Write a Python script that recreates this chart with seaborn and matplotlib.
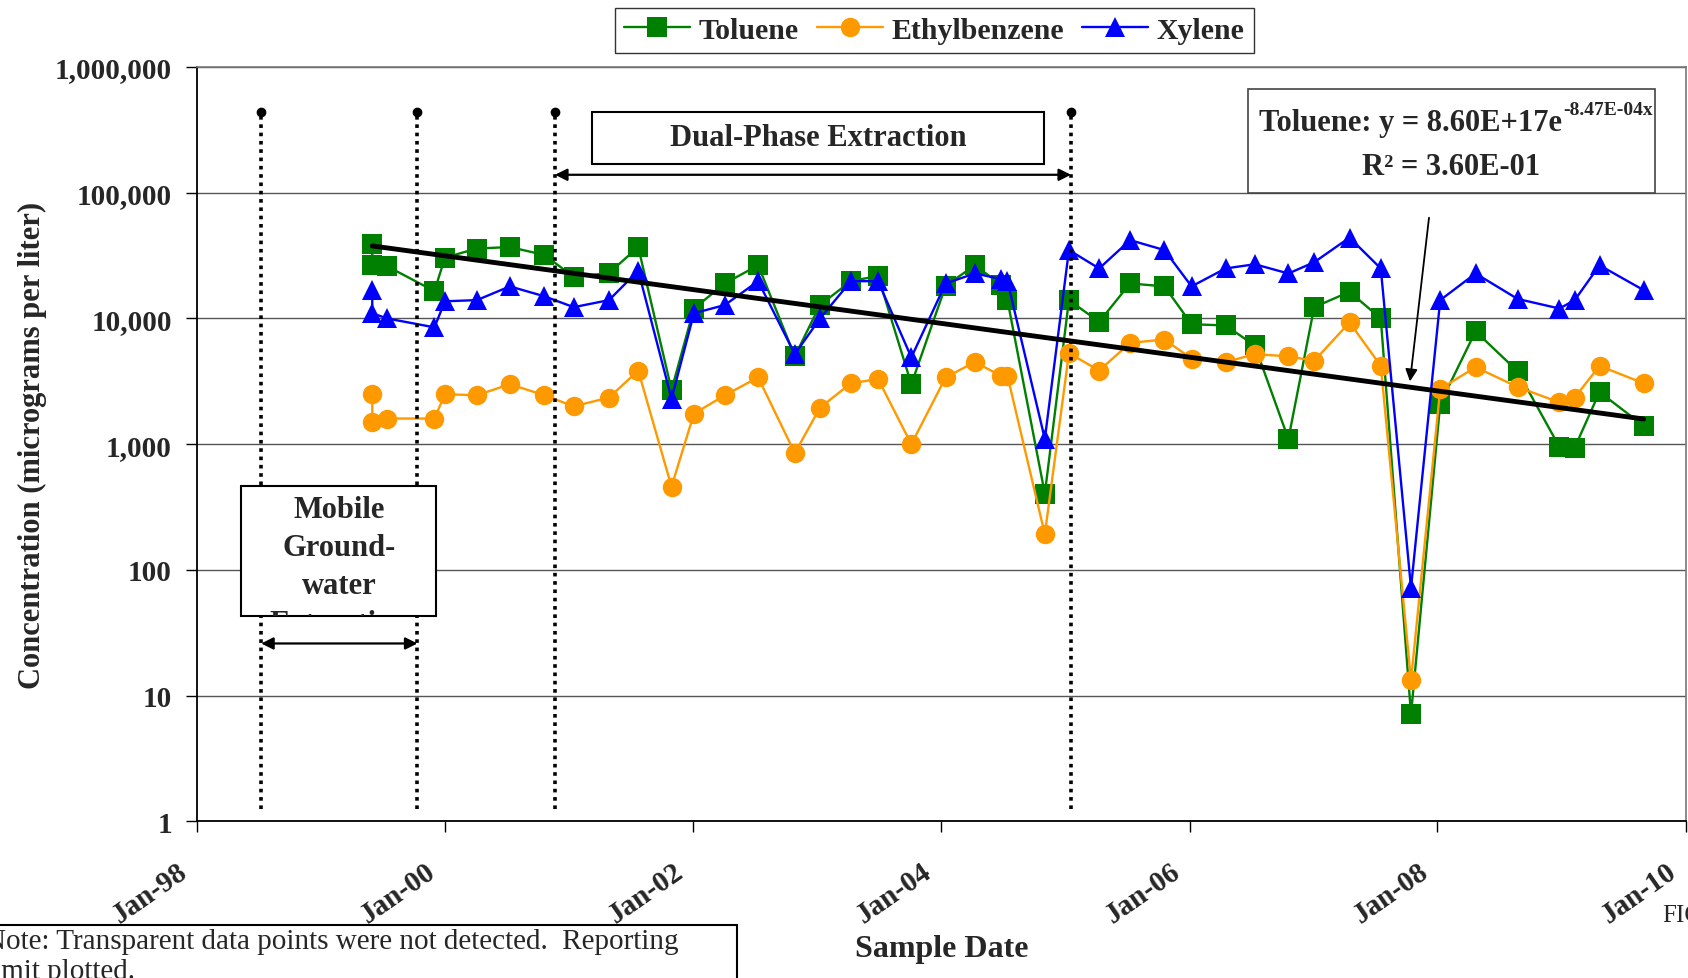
import pandas as pd
import numpy as np
import matplotlib
matplotlib.use('Agg')
import matplotlib.pyplot as plt
import matplotlib.dates as mdates
import matplotlib.transforms as mtransforms
from matplotlib.patches import Rectangle
from matplotlib.ticker import FuncFormatter, NullLocator
import seaborn as sns

# sample dates
dates = ['1999-06-01', '1999-06-01', '1999-07-15', '1999-12-01', '2000-01-01',
         '2000-04-04', '2000-07-10', '2000-10-20', '2001-01-14', '2001-04-28',
         '2001-07-23', '2001-10-29', '2002-01-03', '2002-04-04', '2002-07-11',
         '2002-10-27', '2003-01-09', '2003-04-10', '2003-06-29', '2003-10-05',
         '2004-01-14', '2004-04-09', '2004-06-25', '2004-07-14', '2004-11-01',
         '2005-01-11', '2005-04-10', '2005-07-10', '2005-10-19', '2006-01-07',
         '2006-04-17', '2006-07-12', '2006-10-19', '2007-01-03', '2007-04-17',
         '2007-07-18', '2007-10-15', '2008-01-09', '2008-04-22', '2008-08-24',
         '2008-12-25', '2009-02-08', '2009-04-22', '2009-08-30']

toluene = [39400, 26600, 26000, 16500, 30500, 36000, 37000, 32000, 21400, 23000,
           37000, 2700, 12000, 19000, 26500, 5000, 12800, 19800, 21800, 3000,
           18200, 26500, 18600, 14000, 404, 14000, 9400, 19000, 18000, 9000,
           8800, 6100, 1100, 12300, 16300, 10000, 7.1, 2100, 7900, 3800,
           950, 940, 2600, 1400]

ethylbenzene = [2500, 1500, 1600, 1600, 2500, 2450, 3000, 2450, 2000, 2350,
                3850, 460, 1750, 2450, 3400, 850, 1950, 3050, 3300, 1000,
                3400, 4500, 3500, 3500, 192, 5300, 3850, 6400, 6800, 4800,
                4500, 5200, 5000, 4600, 9300, 4200, 13.2, 2750, 4100, 2850,
                2150, 2350, 4200, 3050]

xylene = [16800, 11000, 10000, 8500, 13700, 14000, 18000, 15000, 12300, 14000,
          24000, 2300, 11000, 12800, 19800, 5200, 10000, 19800, 19800, 4900,
          19000, 22800, 20600, 19800, 1100, 35000, 25000, 42000, 35000, 18000,
          25000, 27000, 22800, 28000, 44000, 25000, 72, 14000, 22800, 14300,
          12000, 14000, 26500, 16800]

compounds = ['Toluene', 'Ethylbenzene', 'Xylene']
colors = {'Toluene': '#008000', 'Ethylbenzene': '#FF9900', 'Xylene': '#0000FF'}
markers = {'Toluene': 's', 'Ethylbenzene': 'o', 'Xylene': '^'}

# remediation phase boundaries
phase_dates = ['1998-07-09', '1999-10-12', '2000-11-20', '2005-01-17']

# exponential fit from the chart (x = Excel date serial)
fit_a, fit_b = 8.60e17, -8.47e-4

df = pd.DataFrame({'Date': pd.to_datetime(dates), 'Toluene': toluene,
                   'Ethylbenzene': ethylbenzene, 'Xylene': xylene})
long_df = df.melt(id_vars='Date', var_name='Compound', value_name='Conc')

sns.set_theme(style='ticks')
plt.rcParams['font.family'] = ['Liberation Serif', 'DejaVu Serif']
plt.rcParams['font.weight'] = 'bold'

fig = plt.figure(figsize=(16.88, 9.79), dpi=100)
ax = fig.add_axes([0.1167, 0.1600, 0.8820, 0.7705])

sns.lineplot(data=long_df, x='Date', y='Conc', hue='Compound', style='Compound',
             hue_order=compounds, style_order=compounds, palette=colors,
             markers=markers, dashes=False, estimator=None, sort=False,
             markersize=14, markeredgewidth=0, linewidth=1.7, ax=ax)

ax.set_yscale('log')
ax.set_ylim(1, 1e6)
ax.set_xlim(pd.Timestamp('1998-01-01'), pd.Timestamp('2010-01-01'))

# trendline
serial = (df['Date'] - pd.Timestamp('1899-12-30')).dt.days
trend = fit_a * np.exp(fit_b * serial)
ax.plot([df['Date'].iloc[0], df['Date'].iloc[-1]], [trend.iloc[0], trend.iloc[-1]],
        color='black', lw=3.5, zorder=5)

# phase lines
for d in phase_dates:
    d = pd.Timestamp(d)
    ax.plot([d, d], [1.25, 4.4e5], color='black', lw=2.6, linestyle=(0, (1, 1.3)), zorder=3)
    ax.plot([d], [4.4e5], marker='o', color='black', ms=6, zorder=3)

ax.annotate('', xy=(pd.Timestamp(phase_dates[2]), 1.39e5), xytext=(pd.Timestamp(phase_dates[3]), 1.39e5),
            arrowprops=dict(arrowstyle='<|-|>', color='black', lw=1.6, mutation_scale=18, shrinkA=0, shrinkB=0))
ax.annotate('', xy=(pd.Timestamp(phase_dates[0]), 26), xytext=(pd.Timestamp(phase_dates[1]), 26),
            arrowprops=dict(arrowstyle='<|-|>', color='black', lw=1.6, mutation_scale=18, shrinkA=0, shrinkB=0))

# Dual-Phase box
ax.add_patch(Rectangle((0.265, 0.872), 0.304, 0.068, transform=ax.transAxes,
                       facecolor='white', edgecolor='black', lw=1.5, zorder=6))
ax.text(0.417, 0.907, 'Dual-Phase Extraction', transform=ax.transAxes, ha='center', va='center',
        fontsize=22, fontweight='bold', zorder=7)

# Mobile groundwater box (text is clipped by the box)
mob = Rectangle((0.0296, 0.2725), 0.131, 0.1725, transform=ax.transAxes,
                facecolor='white', edgecolor='black', lw=1.5, zorder=6)
ax.add_patch(mob)
t = ax.text(0.0955, 0.433, 'Mobile\nGround-\nwater\nExtraction', transform=ax.transAxes,
            ha='center', va='top', fontsize=22, fontweight='bold', linespacing=1.42, zorder=7)
t.set_clip_path(mob)
t.set_clip_on(True)

# equation box
ax.add_patch(Rectangle((0.706, 0.833), 0.273, 0.138, transform=ax.transAxes,
                       facecolor='white', edgecolor='#444444', lw=1.2, zorder=6))
ax.text(0.917, 0.926, 'Toluene: y = 8.60E+17e', transform=ax.transAxes, ha='right', va='center',
        fontsize=22, fontweight='bold', zorder=7)
ax.text(0.918, 0.944, '-8.47E-04x', transform=ax.transAxes, ha='left', va='center',
        fontsize=14, fontweight='bold', zorder=7)
ax.text(0.842, 0.868, 'R² = 3.60E-01', transform=ax.transAxes, ha='center', va='center',
        fontsize=22, fontweight='bold', zorder=7)
ax.annotate('', xy=(pd.Timestamp('2007-10-12'), 3160), xytext=(pd.Timestamp('2007-12-07'), 63300),
            arrowprops=dict(arrowstyle='-|>', color='black', lw=1.3, mutation_scale=18, shrinkA=0, shrinkB=0))

# axes styling
ax.yaxis.set_major_formatter(FuncFormatter(lambda v, p: f'{v:,.0f}'))
ax.yaxis.set_minor_locator(NullLocator())
ax.yaxis.grid(True, which='major', color='#555555', lw=1.0)
ax.xaxis.set_major_locator(mdates.YearLocator(2))
ax.xaxis.set_major_formatter(mdates.DateFormatter('%b-%y'))
ax.tick_params(axis='both', direction='out', length=8, width=1, color='black', labelsize=21)
ax.tick_params(axis='y', pad=10)
ax.tick_params(axis='x', pad=18)
shift = mtransforms.ScaledTranslation(-20 / 100, 0, fig.dpi_scale_trans)
for lab in ax.get_xticklabels():
    lab.set_rotation(35)
    lab.set_ha('right')
    lab.set_rotation_mode('anchor')
    lab.set_fontweight('bold')
    lab.set_transform(lab.get_transform() + shift)
for lab in ax.get_yticklabels():
    lab.set_fontweight('bold')
for s in ['left', 'bottom']:
    ax.spines[s].set_color('black')
    ax.spines[s].set_linewidth(1.3)
for s in ['top', 'right']:
    ax.spines[s].set_color('#777777')
    ax.spines[s].set_linewidth(1.2)

ax.set_xlabel('Sample Date', fontsize=23, fontweight='bold', labelpad=4)
ax.set_ylabel('Concentration (micrograms per liter)', fontsize=22, fontweight='bold', labelpad=6)

handles, labels = ax.get_legend_handles_labels()
ax.get_legend().remove()
fig.legend(handles, labels, loc='center', bbox_to_anchor=(0.5536, 0.968), ncol=3,
           frameon=True, fancybox=False, edgecolor='black', handlelength=2.2,
           handletextpad=0.3, columnspacing=0.6, borderpad=0.3, prop={'weight': 'bold', 'size': 21.5})

# note and page label, both cut off by the page edge
fig.text(-0.009, 0.022, 'Note: Transparent data points were not detected.  Reporting\nlimit plotted.',
         fontsize=21, fontweight='normal', va='center', ha='left', linespacing=1.2)
fig.add_artist(Rectangle((-0.01, -0.05), 0.4466, 0.104, transform=fig.transFigure,
                         facecolor='none', edgecolor='black', lw=1.5))
fig.text(0.985, 0.064, 'FIGURE', fontsize=18, fontweight='normal', va='center', ha='left')

fig.savefig('out.png', dpi=100)
